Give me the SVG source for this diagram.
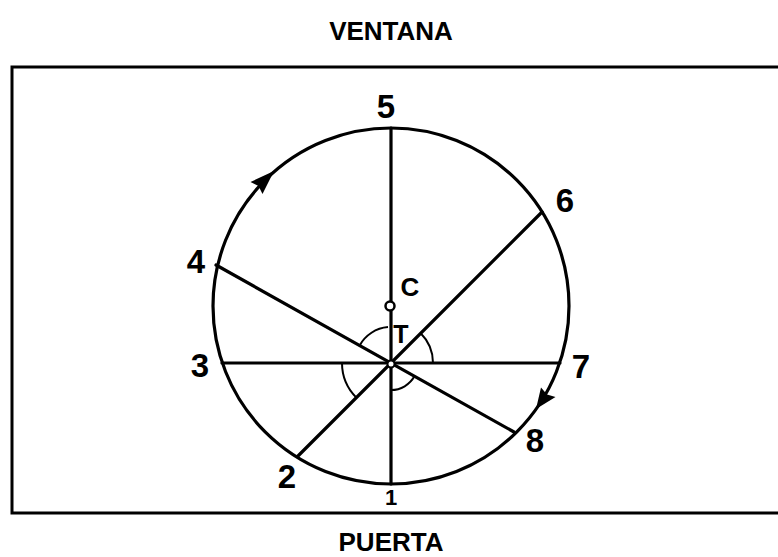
<svg xmlns="http://www.w3.org/2000/svg" width="778" height="557" viewBox="0 0 778 557">
<style>
.ln{stroke:#000;stroke-width:3.2;fill:none;stroke-linecap:round}
.thin{stroke:#000;stroke-width:2;fill:none}
.lab{font-family:"Liberation Sans",Arial,sans-serif;font-weight:bold;fill:#000;text-anchor:middle}
.num{font-size:33px}
.title{font-size:26px}
</style>
<rect x="0" y="0" width="778" height="557" fill="#fff"/>
<g id="room">
<path d="M790,67 H12 V513 H790" stroke="#000" stroke-width="3" fill="none"/>
<text class="lab title" x="391" y="40">VENTANA</text>
<text class="lab title" x="391" y="551">PUERTA</text>
</g>
<g id="circle">
<circle cx="391" cy="306" r="178" class="ln" stroke-width="3.5"/>
</g>
<g id="connectors">
<line class="ln" x1="391" y1="128" x2="391" y2="484"/>
<line class="ln" x1="222" y1="363" x2="560" y2="363"/>
<line class="ln" x1="216" y1="265" x2="514" y2="432"/>
<line class="ln" x1="542" y1="212" x2="298" y2="456"/>
<path class="thin" d="M359.6,345.5 A36,36 0 0 1 388,327.1"/>
<path class="thin" d="M420.7,333.3 A42,42 0 0 1 433,363"/>
<path class="thin" d="M342,363 A49,49 0 0 0 356.4,397.6"/>
<path class="thin" d="M391,390 A27,27 0 0 0 414.6,376.1"/>
<polygon points="274,171 262.5,194 258.5,186 250.5,182" fill="#000"/>
<polygon points="536,409 555.5,397 547,394.5 541,387.5" fill="#000"/>
</g>
<g id="C">
<circle cx="390" cy="306" r="4.5" fill="#fff" stroke="#000" stroke-width="2.5"/>
<text class="lab" x="410" y="296" font-size="26">C</text>
</g>
<g id="T">
<circle cx="391" cy="364" r="3.5" fill="#fff" stroke="#000" stroke-width="2"/>
<text class="lab" x="401" y="343" font-size="25">T</text>
</g>
<g id="p1"><text class="lab" x="391" y="505" font-size="22">1</text></g>
<g id="p2"><text class="lab num" x="287" y="488">2</text></g>
<g id="p3"><text class="lab num" x="200" y="377">3</text></g>
<g id="p4"><text class="lab num" x="196" y="273">4</text></g>
<g id="p5"><text class="lab num" x="386" y="118">5</text></g>
<g id="p6"><text class="lab num" x="565" y="212">6</text></g>
<g id="p7"><text class="lab num" x="581" y="378">7</text></g>
<g id="p8"><text class="lab num" x="535" y="452">8</text></g>
</svg>
